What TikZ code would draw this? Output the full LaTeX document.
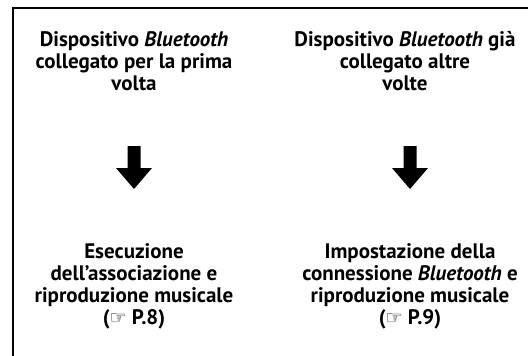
\documentclass[tikz,border=0pt]{standalone}
\usepackage{fontspec}
\setmainfont{PT Sans}
\newfontfamily\symfont{DejaVu Sans}
\usetikzlibrary{positioning}

\begin{document}
\begin{tikzpicture}[x=1pt, y=-1pt,
    every node/.style={font=\fontsize{21}{22}\selectfont\bfseries},
    block/.style={align=center, inner sep=0pt},
    frameline/.style={line width=2pt},
    fatarrow/.style={fill=black}
]
\useasboundingbox (0,0) rectangle (528,356);

% Frame
\draw[frameline] (13,356) -- (13,8) -- (528,8);

% Starting situations
\node[block] (first) at (134,61) {Dispositivo \textit{Bluetooth}\\collegato per la prima\\volta};
\node[block] (again) at (405,61) {Dispositivo \textit{Bluetooth} già\\collegato altre\\volte};

% Results
\node[block] (pairing) at (134,286) {Esecuzione\\dell’associazione e\\riproduzione musicale\\({\symfont\fontsize{19}{22}\selectfont ☞} P.8)};
\node[block] (connect) at (410,286) {Impostazione della\\connessione \textit{Bluetooth} e\\riproduzione musicale\\({\symfont\fontsize{19}{22}\selectfont ☞} P.9)};

% Arrows
\coordinate (arrA) at (134,146);
\coordinate (arrB) at (410,146);
\foreach \a in {arrA, arrB} {
    \fill[fatarrow] (\a) ++(-6.5,0) -- ++(13,0) -- ++(0,22) -- ++(11.5,0) -- ++(-18,21) -- ++(-18,-21) -- ++(11.5,0) -- cycle;
}

\end{tikzpicture}
\end{document}
